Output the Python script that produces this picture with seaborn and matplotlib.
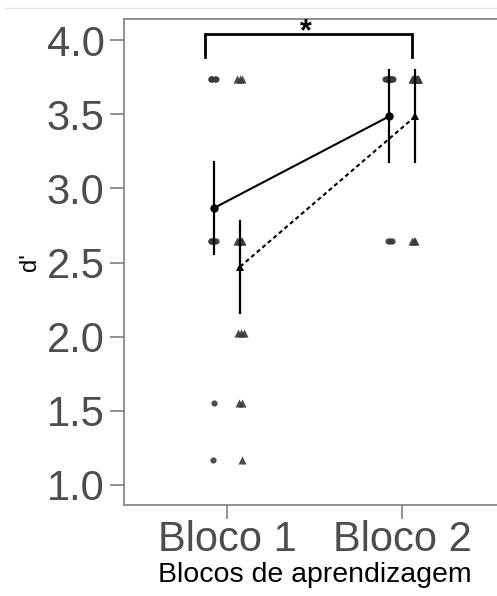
import numpy as np
import pandas as pd
import matplotlib
matplotlib.use("Agg")
import matplotlib.pyplot as plt
import seaborn as sns
from matplotlib.lines import Line2D

# categorias e grupos
blocos = ["Bloco 1", "Bloco 2"]
grupos = ["circulo", "triangulo"]

# niveis de d' que aparecem no grafico
niveis = [3.737, 2.645, 2.025, 1.553, 1.168]

# quantos participantes em cada nivel (mesma ordem de niveis)
circulo_b1 = [5, 6, 0, 1, 1]
circulo_b2 = [10, 3, 0, 0, 0]
triangulo_b1 = [3, 4, 3, 2, 1]
triangulo_b2 = [10, 3, 0, 0, 0]

# erro padrao (barras)
erro_padrao = 0.31

yticks = [1.0, 1.5, 2.0, 2.5, 3.0, 3.5, 4.0]


def monta_dados():
    contagens = {
        ("circulo", "Bloco 1"): circulo_b1,
        ("circulo", "Bloco 2"): circulo_b2,
        ("triangulo", "Bloco 1"): triangulo_b1,
        ("triangulo", "Bloco 2"): triangulo_b2,
    }
    desloc = {"circulo": -0.075, "triangulo": 0.075}
    linhas = []
    for (g, b), cont in contagens.items():
        for nivel, n in zip(niveis, cont):
            for i in range(n):
                linhas.append({"grupo": g, "bloco": b, "dprime": nivel,
                               "xpos": blocos.index(b) + desloc[g]})
    df = pd.DataFrame(linhas)
    rng = np.random.default_rng(3)
    # jitter horizontal pequeno, como num stripplot
    df["xj"] = df["xpos"] + rng.uniform(-0.022, 0.022, len(df))
    return df


df = monta_dados()

plt.rcParams["font.family"] = ["Liberation Sans", "DejaVu Sans"]

fig = plt.figure(figsize=(4.97, 5.96), dpi=100)
ax = fig.add_axes([124 / 497, 1 - 505 / 596, 381.5 / 497, 486 / 596])

# pontos individuais
sub = df[df["grupo"] == "circulo"]
sns.scatterplot(data=sub, x="xj", y="dprime", marker="o", s=20, color="#3a3a3a",
                linewidth=0, alpha=0.9, legend=False, ax=ax)
sub = df[df["grupo"] == "triangulo"]
sns.scatterplot(data=sub, x="xj", y="dprime", marker="^", s=34, color="#3a3a3a",
                linewidth=0, alpha=0.9, legend=False, ax=ax)

# medias com barras de erro
sns.lineplot(data=df, x="xpos", y="dprime", style="grupo",
             markers={"circulo": "o", "triangulo": "^"},
             dashes={"circulo": "", "triangulo": (2, 1.5)},
             color="black", linewidth=1.5, markersize=6, markeredgewidth=0,
             errorbar=lambda v: (v.mean() - erro_padrao, v.mean() + erro_padrao),
             err_style="bars", err_kws={"elinewidth": 1.6, "capsize": 0},
             legend=False, ax=ax)

# colchete de significancia
ax.plot([-0.126, -0.126, 1.057, 1.057], [3.885, 4.04, 4.04, 3.885],
        color="black", lw=2, clip_on=False, solid_joinstyle="miter")
ax.text(0.451, 4.05, "*", ha="center", va="center", fontsize=22,
        fontweight="bold", color="black")

ax.set_xlim(-0.589, 1.591)
ax.set_ylim(0.865, 4.142)
ax.set_xticks([0, 1], blocos)
ax.set_yticks(yticks, ["%.1f" % v for v in yticks])

for s in ax.spines.values():
    s.set_color("#808080")
    s.set_linewidth(1.2)

ax.tick_params(axis="both", length=10, width=1.2, color="#808080",
               labelcolor="#4d4d4d")
ax.tick_params(axis="y", labelsize=30, pad=4)
ax.tick_params(axis="x", labelsize=30, pad=1)

ax.set_xlabel("Blocos de aprendizagem", fontsize=20.5, color="black", labelpad=1)
ax.set_ylabel("d'", fontsize=17, color="black", labelpad=4)

fig.add_artist(Line2D([0.01, 1.0], [1 - 8 / 596, 1 - 8 / 596], color="#e3e3e3", lw=1))

fig.savefig("out.png", dpi=100)
